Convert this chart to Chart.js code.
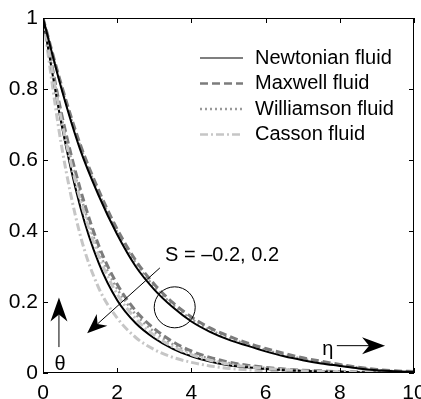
<!DOCTYPE html>
<html>
<head>
<meta charset="utf-8">
<script src="https://cdn.jsdelivr.net/npm/chart.js@4.4.1/dist/chart.umd.min.js"></script>
<style>
  html, body { margin: 0; padding: 0; background: #fff; }
</style>
</head>
<body>
<canvas id="chart" width="421" height="399"></canvas>
<script>
// --- DATA --- //
const eta = [0, 0.5, 1, 1.5, 2, 2.5, 3, 3.5, 4, 4.5, 5, 5.5, 6, 6.5, 7, 7.5, 8, 8.5, 9, 9.5, 10]

// upper group of curves
const newtonianHigh = [1, 0.80, 0.63, 0.50, 0.39, 0.30, 0.235, 0.185, 0.145, 0.116, 0.094, 0.077, 0.061, 0.047, 0.036, 0.027, 0.020, 0.013, 0.008, 0.005, 0.003]
const maxwellHigh = [1, 0.81, 0.645, 0.515, 0.405, 0.317, 0.25, 0.198, 0.158, 0.127, 0.104, 0.085, 0.069, 0.055, 0.043, 0.033, 0.024, 0.016, 0.010, 0.006, 0.004]
const williamsonHigh = [1, 0.805, 0.64, 0.508, 0.398, 0.31, 0.243, 0.192, 0.152, 0.122, 0.099, 0.081, 0.065, 0.051, 0.040, 0.030, 0.022, 0.015, 0.009, 0.005, 0.003]
const cassonHigh = [1, 0.71, 0.49, 0.33, 0.222, 0.153, 0.106, 0.074, 0.052, 0.036, 0.025, 0.018, 0.013, 0.009, 0.006, 0.004, 0.003, 0.002, 0.001, 0.001, 0]

// lower group of curves
const newtonianLow = [1, 0.70, 0.47, 0.31, 0.205, 0.14, 0.098, 0.068, 0.047, 0.032, 0.022, 0.016, 0.011, 0.008, 0.006, 0.004, 0.003, 0.002, 0.001, 0.001, 0]
const maxwellLow = [1, 0.73, 0.52, 0.36, 0.25, 0.175, 0.125, 0.088, 0.062, 0.044, 0.031, 0.022, 0.016, 0.011, 0.008, 0.006, 0.004, 0.003, 0.002, 0.001, 0.001]
const williamsonLow = [1, 0.72, 0.505, 0.345, 0.237, 0.165, 0.116, 0.081, 0.057, 0.040, 0.028, 0.020, 0.014, 0.010, 0.007, 0.005, 0.003, 0.002, 0.001, 0.001, 0]
const cassonLow = [1, 0.64, 0.39, 0.24, 0.155, 0.10, 0.066, 0.044, 0.030, 0.020, 0.013, 0.009, 0.006, 0.004, 0.003, 0.002, 0.001, 0.001, 0, 0, 0]

const fluidNames = ['Newtonian fluid', 'Maxwell fluid', 'Williamson fluid', 'Casson fluid']
const xTicks = [0, 2, 4, 6, 8, 10]
const yTicks = [0, 0.2, 0.4, 0.6, 0.8, 1]

// annotation anchors (data units)
const noteText = 'S = \u20130.2, 0.2'
const notePos = [3.29, 0.332]
const circlePos = [3.55, 0.185]
const sArrow = [[3.15, 0.296], [1.19, 0.112]]
const thetaArrow = [[0.43, 0.073], [0.43, 0.213]]
const thetaPos = [0.46, 0.023]
const etaArrow = [[7.92, 0.077], [9.22, 0.077]]
const etaPos = [7.68, 0.066]

// --- STYLES --- //
const FONT = '"Liberation Sans", Arial, sans-serif'
const styles = {
  newtonian: { borderColor: '#000000', borderWidth: 2, borderDash: [] },
  maxwell: { borderColor: '#7c7c7c', borderWidth: 3, borderDash: [8, 4] },
  williamson: { borderColor: '#9a9a9a', borderWidth: 2.5, borderDash: [2, 3] },
  casson: { borderColor: '#c6c6c6', borderWidth: 3, borderDash: [8, 3, 2, 3] }
}

const toPoints = arr => arr.map((v, i) => ({ x: eta[i], y: v }))
const makeSet = (label, arr, style) => ({
  label,
  data: toPoints(arr),
  ...style,
  pointRadius: 0,
  fill: false,
  cubicInterpolationMode: 'monotone'
})

const datasets = [
  makeSet(fluidNames[0], newtonianHigh, styles.newtonian),
  makeSet(fluidNames[1], maxwellHigh, styles.maxwell),
  makeSet(fluidNames[2], williamsonHigh, styles.williamson),
  makeSet(fluidNames[3], cassonHigh, styles.casson),
  makeSet(fluidNames[0], newtonianLow, styles.newtonian),
  makeSet(fluidNames[1], maxwellLow, styles.maxwell),
  makeSet(fluidNames[2], williamsonLow, styles.williamson),
  makeSet(fluidNames[3], cassonLow, styles.casson)
]

// filled arrow head with notch (matlab-like)
function drawArrow (ctx, x0, y0, x1, y1, len, half, notch) {
  const ang = Math.atan2(y1 - y0, x1 - x0)
  const cos = Math.cos(ang), sin = Math.sin(ang)
  ctx.beginPath()
  ctx.moveTo(x0, y0)
  ctx.lineTo(x1 - cos * (len - notch), y1 - sin * (len - notch))
  ctx.stroke()
  const bx = x1 - cos * len, by = y1 - sin * len
  ctx.beginPath()
  ctx.moveTo(x1, y1)
  ctx.lineTo(bx - sin * half, by + cos * half)
  ctx.lineTo(x1 - cos * (len - notch), y1 - sin * (len - notch))
  ctx.lineTo(bx + sin * half, by - cos * half)
  ctx.closePath()
  ctx.fill()
}

// --- FRAME, LEGEND, NOTES --- //
const decorPlugin = {
  id: 'decor',
  afterDatasetsDraw (chart) {
    const { ctx, chartArea: a, scales: { x, y } } = chart
    const px = v => x.getPixelForValue(v)
    const py = v => y.getPixelForValue(v)
    ctx.save()
    ctx.strokeStyle = '#000'
    ctx.fillStyle = '#000'
    ctx.lineWidth = 1
    ctx.setLineDash([])

    // box + inward ticks
    ctx.strokeRect(Math.round(a.left) + 0.5, Math.round(a.top) + 0.5,
      Math.round(a.right - a.left) - 1, Math.round(a.bottom - a.top) - 1)
    ctx.beginPath()
    xTicks.forEach(t => {
      const p = Math.round(px(t)) + 0.5
      ctx.moveTo(p, a.bottom); ctx.lineTo(p, a.bottom - 5)
      ctx.moveTo(p, a.top); ctx.lineTo(p, a.top + 5)
    })
    yTicks.forEach(t => {
      const p = Math.round(py(t)) + 0.5
      ctx.moveTo(a.left, p); ctx.lineTo(a.left + 5, p)
      ctx.moveTo(a.right, p); ctx.lineTo(a.right - 5, p)
    })
    ctx.stroke()

    // legend
    ctx.font = '20px ' + FONT
    ctx.textBaseline = 'middle'
    ctx.textAlign = 'left'
    for (let i = 0; i < 4; i++) {
      const ds = chart.data.datasets[i]
      const ly = a.top + 40 + i * 25.5
      ctx.save()
      ctx.strokeStyle = ds.borderColor
      ctx.lineWidth = i === 0 ? 1.2 : 2.5
      ctx.setLineDash(ds.borderDash)
      ctx.beginPath()
      ctx.moveTo(a.left + 157, ly); ctx.lineTo(a.left + 200, ly)
      ctx.stroke()
      ctx.restore()
      ctx.fillStyle = '#000'
      ctx.fillText(ds.label, a.left + 212, ly)
    }

    // notes
    ctx.font = '20px ' + FONT
    ctx.fillText(noteText, px(notePos[0]), py(notePos[1]))
    ctx.beginPath()
    ctx.arc(px(circlePos[0]), py(circlePos[1]), 20.5, 0, Math.PI * 2)
    ctx.stroke()
    drawArrow(ctx, px(sArrow[0][0]), py(sArrow[0][1]), px(sArrow[1][0]), py(sArrow[1][1]), 20, 8, 6)
    drawArrow(ctx, px(thetaArrow[0][0]), py(thetaArrow[0][1]), px(thetaArrow[1][0]), py(thetaArrow[1][1]), 24, 8.5, 7)
    drawArrow(ctx, px(etaArrow[0][0]), py(etaArrow[0][1]), px(etaArrow[1][0]), py(etaArrow[1][1]), 23, 8.5, 7)
    ctx.textAlign = 'center'
    ctx.fillText('\u03b8', px(thetaPos[0]), py(thetaPos[1]))
    ctx.fillText('\u03b7', px(etaPos[0]), py(etaPos[1]))
    ctx.restore()
  }
}

// tick text like the original: 0, 0.2, ..., 1
const fmt = v => String(Math.round(v * 10) / 10)

// --- CHART --- //
const chart = new Chart(document.getElementById('chart'), {
  type: 'line',
  data: { datasets },
  options: {
    responsive: false,
    animation: false,
    events: [],
    layout: { padding: { top: 18, right: 7, left: 0, bottom: 0 } },
    plugins: { legend: { display: false }, tooltip: { enabled: false } },
    scales: {
      x: {
        type: 'linear',
        min: 0,
        max: 10,
        afterBuildTicks: s => { s.ticks = xTicks.map(v => ({ value: v })) },
        grid: { display: false, drawTicks: false },
        border: { display: false },
        ticks: { color: '#000', padding: 8, font: { family: FONT, size: 21 }, maxRotation: 0, callback: fmt },
        afterFit: s => { s.height = 26; s.paddingLeft = 0; s.paddingRight = 0 }
      },
      y: {
        min: 0,
        max: 1,
        afterBuildTicks: s => { s.ticks = yTicks.map(v => ({ value: v })) },
        grid: { display: false, drawTicks: false },
        border: { display: false },
        ticks: { color: '#000', padding: 5, font: { family: FONT, size: 21 }, callback: fmt },
        afterFit: s => { s.width = 43; s.paddingTop = 0; s.paddingBottom = 0 }
      }
    }
  },
  plugins: [decorPlugin]
})
</script>
</body>
</html>
